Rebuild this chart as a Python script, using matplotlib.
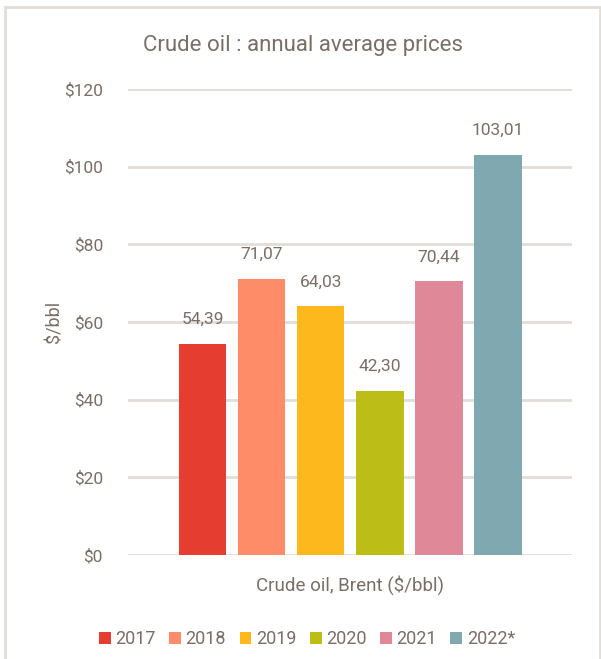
import matplotlib
matplotlib.use("Agg")
import matplotlib.pyplot as plt
from matplotlib.patches import Rectangle, Patch

years = ["2017", "2018", "2019", "2020", "2021", "2022*"]
prices = [54.39, 71.07, 64.03, 42.30, 70.44, 103.01]
colors = ["#e63d31", "#ff8c69", "#fdb81e", "#bcbd17", "#df8898", "#7fa8b0"]
yticks = [0, 20, 40, 60, 80, 100, 120]

txt = "#7a6e68"
grid = "#e3ddd8"
plt.rcParams['font.family'] = ['Roboto', 'DejaVu Sans']

W, H = 601, 659
fig = plt.figure(figsize=(W / 100, H / 100), dpi=100)
ax = fig.add_axes([128 / W, (H - 555) / H, (572 - 128) / W, (555 - 89) / H])

xs = list(range(len(years)))
bars = ax.bar(xs, prices, width=0.8, color=colors, zorder=3)
for x, v in zip(xs, prices):
    ax.text(x, v + 4.3, f"{v:.2f}".replace(".", ","), ha="center", va="bottom",
            fontsize=12.5, color=txt)

ax.set_xlim(-1.26, 6.25)
ax.set_ylim(0, 120)
ax.set_yticks(yticks)
ax.set_yticklabels([f"${t}" for t in yticks], fontsize=12.5, color=txt)
ax.tick_params(axis="y", length=0, pad=18)
ax.set_xticks([])
ax.yaxis.grid(True, color=grid, linewidth=2, zorder=0)
for s in ax.spines.values():
    s.set_visible(False)

ax.set_ylabel("$/bbl", fontsize=13, color=txt, labelpad=0)
ax.yaxis.set_label_coords((63 - 128) / (572 - 128), 0.5)

fig.text(303 / W, 1 - 45 / H, "Crude oil : annual average prices", ha="center",
         va="center", fontsize=16, color=txt)
fig.text(350 / W, 1 - 585 / H, "Crude oil, Brent ($/bbl)", ha="center",
         va="center", fontsize=13.5, color=txt)

handles = [Patch(facecolor=c, edgecolor="none") for c in colors]
fig.legend(handles, years, loc="center", bbox_to_anchor=(307 / W, 1 - 639 / H),
           ncol=6, frameon=False, fontsize=13, labelcolor=txt,
           handlelength=0.65, handleheight=0.65, handletextpad=0.25, columnspacing=0.75)

fig.patches.append(Rectangle((5 / W, -0.01), (600 - 5) / W, 1 - 7 / H + 0.01,
                             transform=fig.transFigure, fill=False,
                             edgecolor=grid, linewidth=2))

fig.savefig("out.png", dpi=100)
